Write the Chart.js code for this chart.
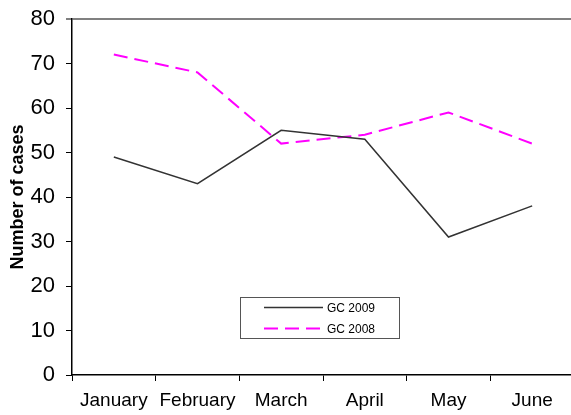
<!DOCTYPE html>
<html>
<head>
<meta charset="utf-8">
<script src="https://cdn.jsdelivr.net/npm/chart.js@4/dist/chart.umd.min.js"></script>
<style>
    html, body { margin: 0; padding: 0; background: #fff; overflow: hidden; }
    #wrap { width: 576px; height: 415px; }
</style>
</head>
<body>
<div id="wrap"><canvas id="myChart"></canvas></div>
<script>
const months = ['January', 'February', 'March', 'April', 'May', 'June'];
const gc2009 = [49, 43, 55, 53, 31, 38];
const gc2008 = [72, 68, 52, 54, 59, 52];
const yTicks = [0, 10, 20, 30, 40, 50, 60, 70, 80];

// legend box drawn inside the plot, like the original
const boxLegend = {
    id: 'boxLegend',
    afterDraw(chart) {
        const ctx = chart.ctx;
        ctx.save();
        ctx.strokeStyle = '#555';
        ctx.lineWidth = 1;
        ctx.strokeRect(240.5, 297.5, 159, 41);
        chart.data.datasets.forEach((ds, i) => {
            const y = 307.5 + i * 21;
            ctx.beginPath();
            ctx.strokeStyle = ds.borderColor;
            ctx.lineWidth = ds.borderWidth;
            ctx.setLineDash(ds.borderDash || []);
            ctx.moveTo(264, y);
            ctx.lineTo(323, y);
            ctx.stroke();
            ctx.setLineDash([]);
            ctx.fillStyle = '#000';
            ctx.font = '12px "Liberation Sans", Arial, sans-serif';
            ctx.textBaseline = 'middle';
            ctx.fillText(ds.label, 327, y + 1);
        });
        ctx.restore();
    }
};

const ctx = document.getElementById('myChart').getContext('2d');
const chart = new Chart(ctx, {
    type: 'line',
    data: {
        labels: months,
        datasets: [{
            label: 'GC 2009',
            data: gc2009,
            borderColor: '#333333',
            borderWidth: 1.5,
            pointRadius: 0,
            tension: 0,
            fill: false
        }, {
            label: 'GC 2008',
            data: gc2008,
            borderColor: '#ff00ff',
            borderWidth: 2,
            borderDash: [14, 7],
            pointRadius: 0,
            tension: 0,
            fill: false
        }]
    },
    options: {
        responsive: true,
        maintainAspectRatio: false,
        animation: false,
        layout: { padding: { top: 19, right: 2, left: 0, bottom: 0 } },
        plugins: {
            legend: { display: false },
            tooltip: { enabled: false }
        },
        scales: {
            x: {
                offset: true,
                grid: {
                    offset: true,
                    drawOnChartArea: false,
                    drawTicks: true,
                    tickLength: 6,
                    tickColor: '#000'
                },
                border: { color: '#000', width: 1.5 },
                ticks: {
                    color: '#000',
                    padding: 8,
                    maxRotation: 0,
                    font: { family: '"Liberation Sans", Arial, sans-serif', size: 19 }
                },
                afterFit(scale) { scale.height = 40; }
            },
            y: {
                min: 0,
                max: 80,
                afterBuildTicks(scale) { scale.ticks = yTicks.map(v => ({ value: v })); },
                grid: {
                    color: c => c.tick && c.tick.value === 80 ? '#808080' : 'rgba(0,0,0,0)',
                    lineWidth: c => c.tick && c.tick.value === 80 ? 2 : 1,
                    tickColor: c => c.tick && c.tick.value === 80 ? '#808080' : '#000',
                    tickLength: 6
                },
                border: { color: '#000', width: 1.5 },
                ticks: {
                    color: '#000',
                    padding: 11,
                    font: { family: '"Liberation Sans", Arial, sans-serif', size: 22 }
                },
                title: {
                    display: true,
                    text: 'Number of cases',
                    color: '#000',
                    padding: { top: 7, bottom: 0 },
                    font: { family: '"Liberation Sans", Arial, sans-serif', size: 18, weight: 'bold' }
                },
                afterFit(scale) {
                    scale.width = 72;
                    scale.paddingTop = 0;
                    scale.paddingBottom = 0;
                }
            }
        }
    },
    plugins: [boxLegend]
});
</script>
</body>
</html>
